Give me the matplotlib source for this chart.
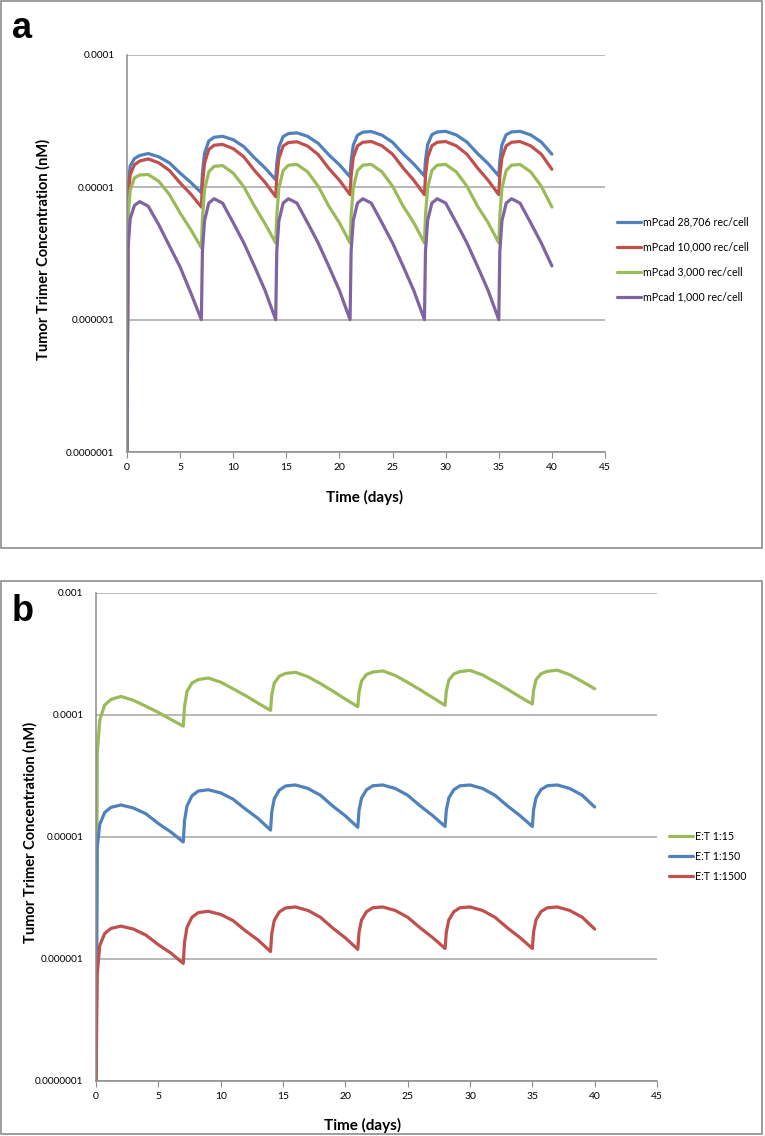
import matplotlib.pyplot as plt
from matplotlib.patches import Rectangle
from matplotlib.ticker import NullLocator

plt.rcParams['font.family'] = ['Lato', 'DejaVu Sans']

# time points (days), weekly dosing
days = [0, 0.1, 0.3, 0.7, 1.2, 2, 3, 4, 5, 6,
        7, 7.1, 7.3, 7.7, 8.2, 9, 10, 11, 12, 13,
        14, 14.1, 14.3, 14.7, 15.2, 16, 17, 18, 19, 20,
        21, 21.1, 21.3, 21.7, 22.2, 23, 24, 25, 26, 27,
        28, 28.1, 28.3, 28.7, 29.2, 30, 31, 32, 33, 34,
        35, 35.1, 35.3, 35.7, 36.2, 37, 38, 39, 40]

# panel a : receptor density
mpcad_28706 = [1e-7, 1.0e-5, 1.45e-5, 1.65e-5, 1.74e-5, 1.8e-5, 1.7e-5, 1.53e-5, 1.28e-5, 1.09e-5,
               9.1e-6, 1.28e-5, 1.81e-5, 2.24e-5, 2.39e-5, 2.43e-5, 2.29e-5, 2.03e-5, 1.67e-5, 1.40e-5,
               1.14e-5, 1.52e-5, 2.02e-5, 2.42e-5, 2.55e-5, 2.58e-5, 2.43e-5, 2.15e-5, 1.76e-5, 1.48e-5,
               1.2e-5, 1.58e-5, 2.08e-5, 2.48e-5, 2.61e-5, 2.64e-5, 2.48e-5, 2.19e-5, 1.79e-5, 1.50e-5,
               1.22e-5, 1.6e-5, 2.1e-5, 2.5e-5, 2.62e-5, 2.65e-5, 2.49e-5, 2.2e-5, 1.8e-5, 1.51e-5,
               1.22e-5, 1.6e-5, 2.1e-5, 2.5e-5, 2.62e-5, 2.65e-5, 2.49e-5, 2.2e-5, 1.78e-5]
mpcad_10000 = [1e-7, 8.5e-6, 1.25e-5, 1.48e-5, 1.58e-5, 1.64e-5, 1.53e-5, 1.34e-5, 1.08e-5, 8.9e-6,
               7.1e-6, 1.04e-5, 1.52e-5, 1.93e-5, 2.08e-5, 2.11e-5, 1.96e-5, 1.70e-5, 1.34e-5, 1.09e-5,
               8.5e-6, 1.19e-5, 1.66e-5, 2.05e-5, 2.18e-5, 2.21e-5, 2.05e-5, 1.77e-5, 1.39e-5, 1.13e-5,
               8.8e-6, 1.22e-5, 1.68e-5, 2.06e-5, 2.19e-5, 2.22e-5, 2.06e-5, 1.78e-5, 1.40e-5, 1.13e-5,
               8.8e-6, 1.22e-5, 1.68e-5, 2.06e-5, 2.19e-5, 2.22e-5, 2.06e-5, 1.78e-5, 1.40e-5, 1.13e-5,
               8.8e-6, 1.22e-5, 1.68e-5, 2.06e-5, 2.19e-5, 2.22e-5, 2.06e-5, 1.78e-5, 1.37e-5]
mpcad_3000 = [1e-7, 6e-6, 9.5e-6, 1.18e-5, 1.24e-5, 1.25e-5, 1.11e-5, 8.8e-6, 6.4e-6, 4.8e-6,
              3.5e-6, 5.8e-6, 9.6e-6, 1.31e-5, 1.44e-5, 1.46e-5, 1.28e-5, 1.01e-5, 7.2e-6, 5.3e-6,
              3.8e-6, 6.1e-6, 9.9e-6, 1.34e-5, 1.47e-5, 1.49e-5, 1.31e-5, 1.02e-5, 7.2e-6, 5.4e-6,
              3.8e-6, 6.1e-6, 9.9e-6, 1.34e-5, 1.47e-5, 1.49e-5, 1.31e-5, 1.02e-5, 7.2e-6, 5.4e-6,
              3.8e-6, 6.1e-6, 9.9e-6, 1.34e-5, 1.47e-5, 1.49e-5, 1.31e-5, 1.02e-5, 7.2e-6, 5.4e-6,
              3.8e-6, 6.1e-6, 9.9e-6, 1.34e-5, 1.47e-5, 1.49e-5, 1.31e-5, 1.02e-5, 7.1e-6]
mpcad_1000 = [1e-7, 3.5e-6, 5.8e-6, 7.3e-6, 7.8e-6, 7.2e-6, 5.2e-6, 3.6e-6, 2.5e-6, 1.6e-6,
              1e-6, 3.3e-6, 5.6e-6, 7.6e-6, 8.2e-6, 7.6e-6, 5.4e-6, 3.8e-6, 2.53e-6, 1.66e-6,
              1e-6, 3.3e-6, 5.6e-6, 7.6e-6, 8.2e-6, 7.6e-6, 5.4e-6, 3.8e-6, 2.53e-6, 1.66e-6,
              1e-6, 3.3e-6, 5.6e-6, 7.6e-6, 8.2e-6, 7.6e-6, 5.4e-6, 3.8e-6, 2.53e-6, 1.66e-6,
              1e-6, 3.3e-6, 5.6e-6, 7.6e-6, 8.2e-6, 7.6e-6, 5.4e-6, 3.8e-6, 2.53e-6, 1.66e-6,
              1e-6, 3.3e-6, 5.6e-6, 7.6e-6, 8.2e-6, 7.6e-6, 5.4e-6, 3.8e-6, 2.55e-6]

# panel b : effector to target ratio
et_15 = [1e-7, 4.8e-5, 9.1e-5, 1.21e-4, 1.34e-4, 1.42e-4, 1.32e-4, 1.18e-4, 1.05e-4, 9.2e-5,
         8.1e-5, 1.17e-4, 1.56e-4, 1.83e-4, 1.95e-4, 2.01e-4, 1.86e-4, 1.64e-4, 1.44e-4, 1.25e-4,
         1.09e-4, 1.46e-4, 1.83e-4, 2.08e-4, 2.19e-4, 2.24e-4, 2.06e-4, 1.81e-4, 1.57e-4, 1.35e-4,
         1.17e-4, 1.54e-4, 1.90e-4, 2.15e-4, 2.25e-4, 2.3e-4, 2.11e-4, 1.85e-4, 1.61e-4, 1.39e-4,
         1.2e-4, 1.57e-4, 1.93e-4, 2.17e-4, 2.27e-4, 2.32e-4, 2.13e-4, 1.87e-4, 1.63e-4, 1.41e-4,
         1.23e-4, 1.6e-4, 1.95e-4, 2.18e-4, 2.28e-4, 2.33e-4, 2.14e-4, 1.88e-4, 1.64e-4]
et_150 = [1e-7, 8.2e-6, 1.27e-5, 1.59e-5, 1.75e-5, 1.83e-5, 1.73e-5, 1.55e-5, 1.29e-5, 1.10e-5,
          9.1e-6, 1.36e-5, 1.8e-5, 2.18e-5, 2.38e-5, 2.44e-5, 2.3e-5, 2.04e-5, 1.69e-5, 1.42e-5,
          1.14e-5, 1.61e-5, 2.06e-5, 2.42e-5, 2.62e-5, 2.67e-5, 2.5e-5, 2.2e-5, 1.79e-5, 1.49e-5,
          1.2e-5, 1.66e-5, 2.09e-5, 2.44e-5, 2.63e-5, 2.67e-5, 2.5e-5, 2.2e-5, 1.8e-5, 1.5e-5,
          1.22e-5, 1.66e-5, 2.09e-5, 2.44e-5, 2.63e-5, 2.67e-5, 2.5e-5, 2.2e-5, 1.8e-5, 1.5e-5,
          1.22e-5, 1.67e-5, 2.1e-5, 2.45e-5, 2.63e-5, 2.67e-5, 2.5e-5, 2.2e-5, 1.76e-5]
et_1500 = [1e-7, 7.5e-7, 1.29e-6, 1.62e-6, 1.78e-6, 1.86e-6, 1.76e-6, 1.57e-6, 1.31e-6, 1.12e-6,
           9.2e-7, 1.37e-6, 1.82e-6, 2.2e-6, 2.4e-6, 2.46e-6, 2.32e-6, 2.06e-6, 1.7e-6, 1.43e-6,
           1.15e-6, 1.62e-6, 2.07e-6, 2.43e-6, 2.62e-6, 2.67e-6, 2.5e-6, 2.2e-6, 1.79e-6, 1.49e-6,
           1.2e-6, 1.66e-6, 2.09e-6, 2.44e-6, 2.63e-6, 2.67e-6, 2.5e-6, 2.2e-6, 1.8e-6, 1.5e-6,
           1.22e-6, 1.66e-6, 2.09e-6, 2.44e-6, 2.63e-6, 2.67e-6, 2.5e-6, 2.2e-6, 1.8e-6, 1.5e-6,
           1.22e-6, 1.67e-6, 2.1e-6, 2.45e-6, 2.63e-6, 2.67e-6, 2.5e-6, 2.2e-6, 1.76e-6]

xticks = [0, 5, 10, 15, 20, 25, 30, 35, 40, 45]
yticks_a = [1e-7, 1e-6, 1e-5, 1e-4]
ylabels_a = ['0.0000001', '0.000001', '0.00001', '0.0001']
yticks_b = [1e-7, 1e-6, 1e-5, 1e-4, 1e-3]
ylabels_b = ['0.0000001', '0.000001', '0.00001', '0.0001', '0.001']

BLUE = '#4F81BD'
RED = '#C0504D'
GREEN = '#9BBB59'
PURPLE = '#8064A2'
GRID = '#A6A6A6'

W, H = 765, 1136
fig = plt.figure(figsize=(W / 100, H / 100), dpi=100)


def px_box(x0, y0, x1, y1):
    # pixel box (top-left origin) -> figure fraction [left, bottom, width, height]
    return [x0 / W, 1 - y1 / H, (x1 - x0) / W, (y1 - y0) / H]


# panel frames
for y0, y1 in [(1, 548), (581, 1134)]:
    l, b, w, h = px_box(1, y0, 762, y1)
    fig.add_artist(Rectangle((l, b), w, h, transform=fig.transFigure,
                             fill=False, edgecolor='#8C8C8C', lw=1.2))


def style_axes(ax, yticks, ylabels):
    ax.set_yscale('log')
    ax.set_xlim(0, 45)
    ax.set_ylim(yticks[0], yticks[-1])
    ax.set_xticks(xticks)
    ax.set_yticks(yticks)
    ax.set_yticklabels(ylabels)
    ax.yaxis.set_minor_locator(NullLocator())
    ax.grid(axis='y', color=GRID, lw=1.1)
    ax.set_axisbelow(True)
    for s in ['top', 'right']:
        ax.spines[s].set_visible(False)
    for s in ['left', 'bottom']:
        ax.spines[s].set_color('#8C8C8C')
        ax.spines[s].set_linewidth(1.1)
    ax.tick_params(axis='x', direction='out', length=4, color='#8C8C8C',
                   labelsize=7.5, pad=4)
    ax.tick_params(axis='y', length=0, labelsize=7.2, pad=9)
    ax.set_xlabel('Time (days)', fontsize=11, fontweight='bold')
    ax.set_ylabel('Tumor Trimer Concentration (nM)', fontsize=10.5, fontweight='bold')


line_kw = dict(lw=2.3, solid_joinstyle='round', solid_capstyle='round')

# ---- panel a
ax1 = fig.add_axes(px_box(127, 55, 605, 452))
ax1.plot(days, mpcad_28706, color=BLUE, label='mPcad 28,706 rec/cell', **line_kw)
ax1.plot(days, mpcad_10000, color=RED, label='mPcad 10,000 rec/cell', **line_kw)
ax1.plot(days, mpcad_3000, color=GREEN, label='mPcad 3,000 rec/cell', **line_kw)
ax1.plot(days, mpcad_1000, color=PURPLE, label='mPcad 1,000 rec/cell', **line_kw)
style_axes(ax1, yticks_a, ylabels_a)
ax1.xaxis.set_label_coords(0.498, -0.095)
ax1.yaxis.set_label_coords(-0.16, 0.51)
ax1.legend(loc='center left', bbox_to_anchor=(1.005, 0.485), frameon=False,
           fontsize=7.7, handlelength=2.2, handletextpad=0.2, labelspacing=1.3)
fig.text(12 / W, 1 - 38 / H, 'a', fontsize=26, fontweight='bold', family='Liberation Sans')

# ---- panel b
ax2 = fig.add_axes(px_box(96, 593, 657, 1081))
ax2.plot(days, et_15, color=GREEN, label='E:T 1:15', **line_kw)
ax2.plot(days, et_150, color=BLUE, label='E:T 1:150', **line_kw)
ax2.plot(days, et_1500, color=RED, label='E:T 1:1500', **line_kw)
style_axes(ax2, yticks_b, ylabels_b)
ax2.xaxis.set_label_coords(0.476, -0.075)
ax2.yaxis.set_label_coords(-0.105, 0.51)
ax2.legend(loc='center left', bbox_to_anchor=(1.005, 0.46), frameon=False,
           fontsize=7.7, handlelength=2.2, handletextpad=0.2, labelspacing=0.85)
fig.text(12 / W, 1 - 621 / H, 'b', fontsize=26, fontweight='bold', family='Liberation Sans')

fig.savefig('out.png', dpi=100)
